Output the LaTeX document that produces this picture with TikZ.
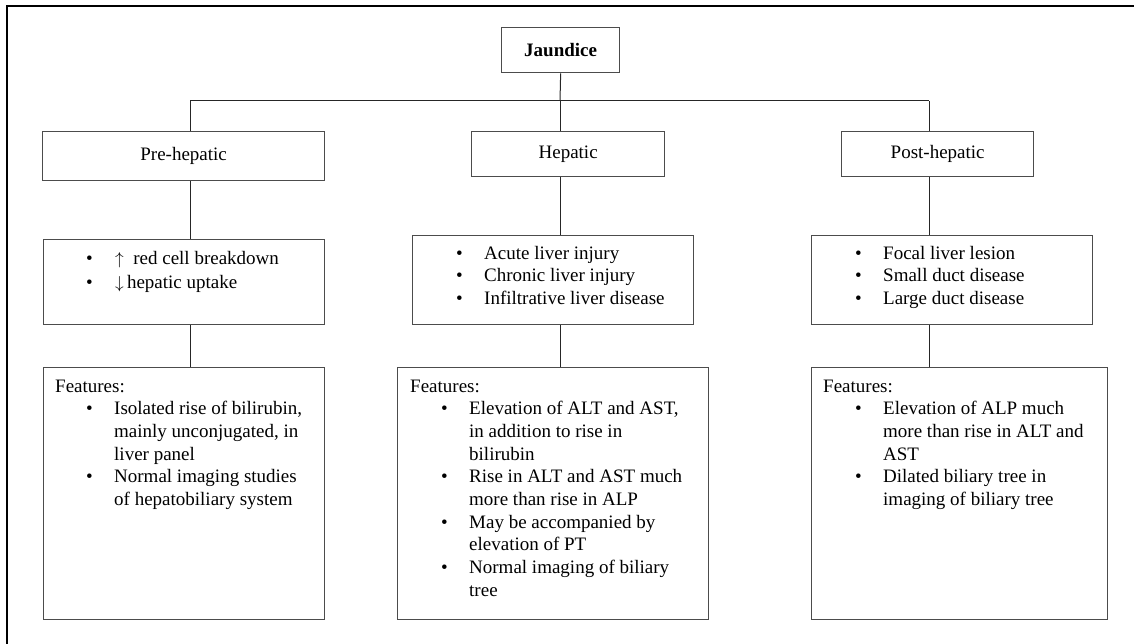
\documentclass[tikz,border=0pt]{standalone}
\usepackage{fontspec}
\setmainfont{Liberation Serif}
\usepackage{tikz}
\usetikzlibrary{positioning}

\begin{document}
\begin{tikzpicture}[
    x=1pt, y=-1pt,
    font=\fontsize{19}{22.7}\selectfont,
    box/.style={rectangle, draw=black!70, line width=1.3pt, anchor=north west, inner sep=0pt},
    listtext/.style={inner sep=0pt},
    conn/.style={draw=black!85, line width=1pt},
    outerframe/.style={draw=black, line width=2pt}
]
    \useasboundingbox (0,0) rectangle (1134,644);
    \draw[outerframe] (7,644) -- (7,6) -- (1134,6);

    % Top node and types
    \node[box, minimum width=118pt, minimum height=45pt] (jaundice) at (501,27) {\textbf{Jaundice}};
    \node[box, minimum width=282pt, minimum height=49pt] (pre) at (42,131) {Pre-hepatic};
    \node[box, minimum width=193pt, minimum height=45pt] (hep) at (471,131) {Hepatic};
    \node[box, minimum width=192pt, minimum height=45pt] (post) at (841,131) {Post-hepatic};

    % Causes
    \node[box, minimum width=281pt, minimum height=85pt] (pre-cause) at (43,239) {};
    \node[box, minimum width=281pt, minimum height=89pt] (hep-cause) at (412,235) {};
    \node[box, minimum width=281pt, minimum height=89pt] (post-cause) at (811,235) {};

    \node[listtext, below right=9pt and 43pt of pre-cause.north west] (pre-cause-text) {%
        \begin{tabular}{@{}p{29pt}@{}l@{}}
        \textbullet & $\uparrow$\ \ red cell breakdown\\[1.3pt]
        \textbullet & $\downarrow$\,hepatic uptake
        \end{tabular}};
    \node[listtext, below right=8pt and 44pt of hep-cause.north west] (hep-cause-text) {%
        \begin{tabular}{@{}p{28pt}@{}l@{}}
        \textbullet & Acute liver injury\\
        \textbullet & Chronic liver injury\\
        \textbullet & Infiltrative liver disease
        \end{tabular}};
    \node[listtext, below right=8pt and 44pt of post-cause.north west] (post-cause-text) {%
        \begin{tabular}{@{}p{28pt}@{}l@{}}
        \textbullet & Focal liver lesion\\
        \textbullet & Small duct disease\\
        \textbullet & Large duct disease
        \end{tabular}};

    % Features
    \node[box, minimum width=281pt, minimum height=252pt] (pre-feat) at (43,367) {};
    \node[box, minimum width=311pt, minimum height=252pt] (hep-feat) at (397,367) {};
    \node[box, minimum width=296pt, minimum height=252pt] (post-feat) at (811,367) {};

    \node[listtext, below right=9pt and 12pt of pre-feat.north west] (pre-feat-text) {%
        \begin{tabular}{@{}p{31pt}@{}p{28pt}@{}l@{}}
        \multicolumn{3}{@{}l@{}}{Features:}\\
        & \textbullet & Isolated rise of bilirubin,\\
        & & mainly unconjugated, in\\
        & & liver panel\\
        & \textbullet & Normal imaging studies\\
        & & of hepatobiliary system
        \end{tabular}};
    \node[listtext, below right=9pt and 13pt of hep-feat.north west] (hep-feat-text) {%
        \begin{tabular}{@{}p{31pt}@{}p{28pt}@{}l@{}}
        \multicolumn{3}{@{}l@{}}{Features:}\\
        & \textbullet & Elevation of ALT and AST,\\
        & & in addition to rise in\\
        & & bilirubin\\
        & \textbullet & Rise in ALT and AST much\\
        & & more than rise in ALP\\
        & \textbullet & May be accompanied by\\
        & & elevation of PT\\
        & \textbullet & Normal imaging of biliary\\
        & & tree
        \end{tabular}};
    \node[listtext, below right=9pt and 12pt of post-feat.north west] (post-feat-text) {%
        \begin{tabular}{@{}p{32pt}@{}p{28pt}@{}l@{}}
        \multicolumn{3}{@{}l@{}}{Features:}\\
        & \textbullet & Elevation of ALP much\\
        & & more than rise in ALT and\\
        & & AST\\
        & \textbullet & Dilated biliary tree in\\
        & & imaging of biliary tree
        \end{tabular}};

    % Connectors
    \coordinate (col-pre) at (190,101);
    \coordinate (col-hep) at (560,101);
    \coordinate (col-post) at (929,101);
    \draw[conn] (jaundice.south) -- (col-hep);
    \draw[conn] (col-pre) -- (col-post);
    \foreach \c in {pre,hep,post}{
        \draw[conn] (col-\c) -- (col-\c |- \c.north);
        \draw[conn] (\c.south -| col-\c) -- (\c-cause.north -| col-\c);
        \draw[conn] (\c-cause.south -| col-\c) -- (\c-feat.north -| col-\c);
    }
\end{tikzpicture}
\end{document}
